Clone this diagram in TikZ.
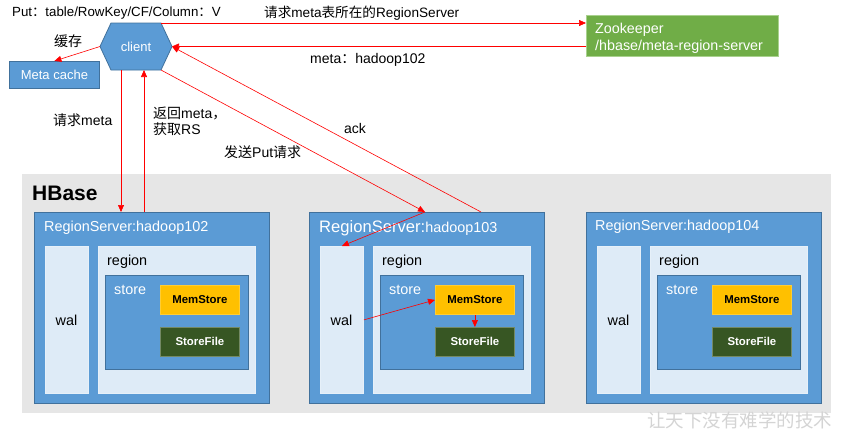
\documentclass[tikz,border=0pt]{standalone}
\usepackage{fontspec}
\setmainfont{Liberation Sans}
\newfontfamily\cjk{Noto Sans CJK SC}
\usetikzlibrary{arrows.meta}
\definecolor{boxblue}{HTML}{5B9BD5}
\definecolor{boxborder}{HTML}{41719C}
\definecolor{lightfill}{HTML}{DEEBF7}
\definecolor{hbgray}{HTML}{E6E6E6}
\definecolor{zkgreen}{HTML}{70AD47}
\definecolor{zkborder}{HTML}{A9D18E}
\definecolor{memyellow}{HTML}{FFC000}
\definecolor{sfgreen}{HTML}{375623}
\definecolor{arrred}{HTML}{FF0000}
\begin{document}
\begin{tikzpicture}[x=1pt,y=-1pt,
  fs/.style={font=\fontsize{#1}{#1}\selectfont},
  txt/.style={anchor=west, inner sep=0pt, text=black},
  rbox/.style={anchor=north west, inner sep=0pt, line width=0.8pt},
  bluebox/.style={rbox, draw=boxborder, fill=boxblue},
  lightbox/.style={rbox, draw=white!85!boxblue, fill=lightfill},
  arr/.style={draw=arrred, line width=0.6pt, -{Triangle[length=7pt,width=6pt]}}
]
\useasboundingbox (0,0) rectangle (849,434);

% HBase area
\node[rbox, fill=hbgray, minimum width=809pt, minimum height=239pt] (hbase) at (22,174) {};
\node[txt, font=\bfseries\fontsize{21}{21}\selectfont] (hbasetitle) at (32,193) {HBase};

% Region servers
\foreach \i/\X in {102/34,103/309,104/586}{
  \node[bluebox, minimum width=235pt, minimum height=191pt] (rs\i) at (\X,212) {};
  \node[lightbox, minimum width=43pt, minimum height=147pt] (wal\i) at (\X+11,246) {};
  \node[inner sep=0pt, fs=14.4] (wallabel\i) at (\X+32.5,320.5) {wal};
  \node[lightbox, minimum width=157pt, minimum height=147pt] (region\i) at (\X+64,246) {};
  \node[txt, fs=14.4] (regionlabel\i) at (\X+73,261.5) {region};
  \node[bluebox, minimum width=143pt, minimum height=94pt] (store\i) at (\X+71,275) {};
  \node[txt, fs=14.4, text=white] (storelabel\i) at (\X+80,289.5) {store};
  \node[rbox, fill=memyellow, draw=memyellow!80!white, minimum width=79pt, minimum height=29pt, font=\bfseries\fontsize{11.4}{11.4}\selectfont] (mem\i) at (\X+126,285) {MemStore};
  \node[rbox, fill=sfgreen, draw=sfgreen!70!white, text=white, minimum width=79pt, minimum height=29pt, font=\bfseries\fontsize{11.4}{11.4}\selectfont] (sf\i) at (\X+126,327) {StoreFile};
}
\node[txt, fs=14.4, text=white] (rstitle102) at (44,227.5) {RegionServer:hadoop102};
\node[txt, text=white] (rstitle103) at (319,228.5) {{\fontsize{16.6}{16.6}\selectfont RegionServer:}{\fontsize{14.4}{14.4}\selectfont hadoop103}};
\node[txt, fs=14.4, text=white] (rstitle104) at (595,226.5) {RegionServer:hadoop104};

% client hexagon
\coordinate (cW) at (100,46.5);
\coordinate (cNW) at (111,23);
\coordinate (cNE) at (161,23);
\coordinate (cE) at (172,46.5);
\coordinate (cSE) at (161,70);
\coordinate (cSW) at (111,70);
\draw[fill=boxblue, draw=boxborder, line width=0.8pt] (cW) -- (cNW) -- (cNE) -- (cE) -- (cSE) -- (cSW) -- cycle;
\node[inner sep=0pt, text=white, fs=13] (client) at (136,47) {client};

% Meta cache and Zookeeper
\node[bluebox, minimum width=90pt, minimum height=27pt, text=white, fs=13] (cache) at (9,61) {Meta cache};
\node[rbox, fill=zkgreen, draw=zkborder, minimum width=192pt, minimum height=41pt] (zk) at (586,15) {};
\node[txt, text=white, fs=14.3] (zk1) at (595,30) {Zookeeper};
\node[txt, text=white, fs=14.3] (zk2) at (595,46.5) {/hbase/meta-region-server};

% labels
\node[txt, fs=13.3] (putlabel) at (12,13) {Put{\cjk ：}table/RowKey/CF/Column{\cjk ：}V};
\node[txt, fs=13.6] (reqlabel) at (264,13.5) {{\cjk 请求}meta{\cjk 表所在的}RegionServer};
\node[txt, fs=14] (metalabel) at (310,60) {meta{\cjk ：}hadoop102};
\node[txt, fs=14] (cachelabel) at (54,41) {\cjk 缓存};
\node[txt, fs=14] (reqmeta) at (53,120.5) {{\cjk 请求}meta};
\node[txt, fs=14] (ret1) at (153,113.5) {{\cjk 返回}meta{\cjk ，}};
\node[txt, fs=14] (ret2) at (153,129.5) {{\cjk 获取}RS};
\node[txt, fs=14] (putreq) at (224,152) {{\cjk 发送}Put{\cjk 请求}};
\node[txt, fs=14] (acklabel) at (344,128) {ack};

% watermark
\node[txt, text=black!17, font=\cjk\fontsize{18.5}{18.5}\selectfont] (wm) at (647,420) {让天下没有难学的技术};

% connectors
\coordinate (d1) at (121,70);
\coordinate (u1) at (144,70);
\coordinate (p103) at (425,212);
\coordinate (a103) at (481,212);
\draw[arr] (cW) -- (cache.north);
\draw[arr] (cNE) -- (cNE -| zk.west);
\draw[arr] (zk.west |- cE) -- (cE);
\draw[arr] (d1) -- (d1 |- rs102.north);
\draw[arr] (u1 |- rs102.north) -- (u1);
\draw[arr] (cSE) -- (p103);
\draw[arr] (a103) -- (cE);
\draw[arr] (p103) -- (wal103.north);
\draw[arr] (wal103.east) -- (mem103.west);
\draw[arr] (mem103.south) -- (sf103.north);
\end{tikzpicture}
\end{document}
